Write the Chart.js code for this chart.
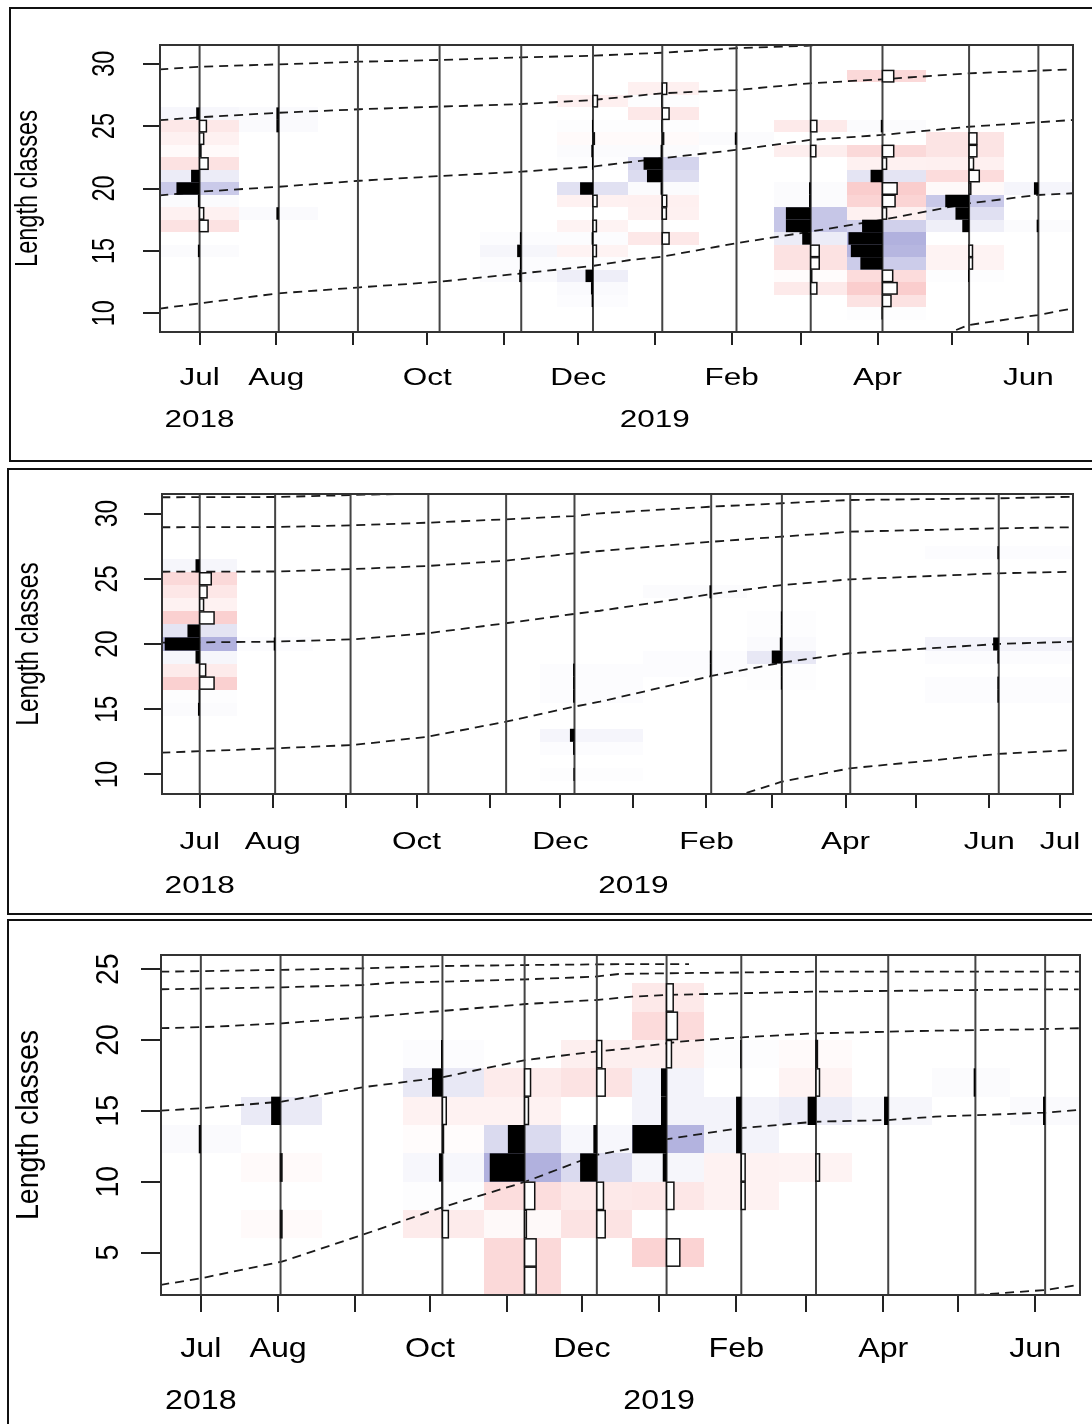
<!DOCTYPE html>
<html><head><meta charset="utf-8">
<script src="https://cdn.jsdelivr.net/npm/chart.js@4.4.1/dist/chart.umd.min.js"></script>
<style>
html,body{margin:0;padding:0;background:#fff;}
#wrap{position:relative;width:1092px;height:1424px;overflow:hidden;background:#fff;}
canvas{position:absolute;left:0;}
</style></head><body>
<div id="wrap">
<canvas id="c1" width="1092" height="465" style="top:0px"></canvas>
<canvas id="c2" width="1092" height="452" style="top:465px"></canvas>
<canvas id="c3" width="1092" height="507" style="top:917px"></canvas>
</div>
<script>
// ---------- shared axis data ----------
const monthStarts = ['2018-07-01','2018-08-01','2018-09-01','2018-10-01','2018-11-01','2018-12-01','2019-01-01','2019-02-01','2019-03-01','2019-04-01','2019-05-01','2019-06-01','2019-07-01'];
const monthLabels = ['Jul','Aug','','Oct','','Dec','','Feb','','Apr','','Jun','Jul'];
const yearLabels = ['2018','2019'];
const yearAnchors = ['2018-07-01','2019-01-01'];
const yTicksA = [10,15,20,25,30];
const yTicksC = [5,10,15,20,25];
const yTitle = 'Length classes';

// ---------- panel 1 ----------
const dates1 = ['2018-07-01','2018-08-02','2018-09-03','2018-10-06','2018-11-08','2018-12-07','2019-01-04','2019-02-03','2019-03-05','2019-04-03','2019-05-08','2019-06-05'];
const lengths1 = [9,10,11,12,13,14,15,16,17,18,19,20,21,22,23,24,25,26,27,28,29,30,31];
const rc1 = [
 [0,0,0,0,0,0,.05,0,-.25,-.12,.05,.68,.25,-.25,-.04,-.12,-.2,.1,0,0,0,0,0],
 [0,0,0,0,0,0,0,0,0,.07,0,0,0,0,0,0,.07,.07,0,0,0,0,0],
 [0,0,0,0,0,0,0,0,0,0,0,0,0,0,0,0,0,0,0,0,0,0,0],
 [0,0,0,0,0,0,0,0,0,0,0,0,0,0,0,0,0,0,0,0,0,0,0],
 [0,0,0,0,.06,.04,.12,.04,0,0,0,0,0,0,0,0,0,0,0,0,0,0,0],
 [0,0,.04,.06,.22,.02,-.1,.04,-.1,0,-.12,.38,0,.03,.05,-.04,.03,0,-.13,0,0,0,0],
 [0,0,0,0,0,0,0,-.2,0,-.12,-.13,.05,.45,.55,.05,-.04,.03,-.2,.03,-.13,0,0,0],
 [0,0,0,0,0,0,0,0,0,0,0,0,0,0,0,.05,0,0,0,0,0,0,0],
 [0,0,0,-.18,-.03,-.25,-.25,.25,.73,.73,.05,.05,0,0,-.15,0,-.18,0,0,0,0,0,0],
 [0,.03,-.25,-.43,-.3,.65,.93,1,.6,-.12,-.37,-.43,.35,-.12,-.33,0,.05,0,0,0,-.33,0,0],
 [0,0,0,0,.03,-.1,-.1,0,.2,.4,.7,-.05,-.3,-.13,-.23,-.23,0,0,0,0,0,0,0],
 [0,0,0,0,0,0,0,0,.05,0,0,.13,0,0,0,0,0,0,0,0,0,0,0]
];
const curves1 = [
 [[-16.3,29.54],[0.1,29.76],[32,29.95],[64.8,30.16],[97.1,30.30],[130.2,30.51],[158.7,30.64],[186.8,30.88],[216.7,31.24],[245.4,31.44],[262,31.62]],
 [[-16.3,25.47],[0.1,25.71],[32,26.07],[64.8,26.35],[97.1,26.56],[130.2,26.77],[158.7,27.09],[186.8,27.63],[216.7,27.89],[246.7,28.43],[275.7,28.75],[310.8,29.23],[353,29.55]],
 [[-16.3,19.45],[0.1,19.74],[32,20.14],[64.8,20.62],[97.1,21.00],[130.2,21.35],[158.7,21.75],[186.8,22.42],[216.7,23.09],[246.7,23.89],[275.7,24.29],[310.8,24.95],[353,25.49]],
 [[-16.3,10.37],[0.1,10.80],[32,11.60],[64.8,12.08],[97.1,12.53],[130.2,13.20],[158.7,13.79],[174,14.27],[186.8,14.53],[216.7,15.61],[246.7,16.54],[275.7,17.48],[310.8,18.81],[338.8,19.48],[353,19.62]],
 [[300,8.3],[304,8.52],[310.8,9.06],[338.8,9.86],[353,10.40]]
];

// ---------- panel 2 ----------
const dates2 = ['2018-07-01','2018-08-02','2018-09-03','2018-10-06','2018-11-08','2018-12-07','2019-02-03','2019-03-05','2019-04-03','2019-06-05'];
const lengths2 = [9,10,11,12,13,14,15,16,17,18,19,20,21,22,23,24,25,26,27,28,29,30,31];
const rc2 = [
 [0,0,0,0,0,0,.05,.03,-.41,-.17,.12,1,.35,-.41,-.11,-.21,-.33,.12,0,0,0,0,0],
 [0,0,0,0,0,0,0,0,0,0,0,.04,0,0,0,0,0,0,0,0,0,0,0],
 [0,0,0,0,0,0,0,0,0,0,0,0,0,0,0,0,0,0,0,0,0,0,0],
 [0,0,0,0,0,0,0,0,0,0,0,0,0,0,0,0,0,0,0,0,0,0,0],
 [0,0,0,0,0,0,0,0,0,0,0,0,0,0,0,0,0,0,0,0,0,0,0],
 [0,.03,0,.04,.13,0,0,.04,.04,.04,0,0,0,0,0,0,0,0,0,0,0,0,0],
 [0,0,0,0,0,0,0,0,0,.04,.04,0,0,0,0,.05,0,0,0,0,0,0,0],
 [0,0,0,0,0,0,0,0,.03,.03,.29,.06,.03,.03,0,0,0,0,0,0,0,0,0],
 [0,0,0,0,0,0,0,0,0,0,0,0,0,0,0,0,0,0,0,0,0,0,0],
 [0,0,0,0,0,0,0,.04,.04,0,.04,.16,0,0,0,0,0,0,.04,0,0,0,0]
];
const curves2 = [
 [[-16.3,31.25],[32.3,31.27],[73.4,31.46],[109,31.58]],
 [[-16.3,28.95],[32,28.97],[65.4,29.1],[96.6,29.30],[129.9,29.56],[158.7,29.81],[169.8,30.02],[217.2,30.53],[246.9,30.79],[275.9,31.04],[338.8,31.17],[370.5,31.29]],
 [[-16.3,25.54],[32.6,25.56],[65.4,25.75],[96.6,25.98],[129.9,26.39],[158.7,26.95],[169.8,27.13],[217.2,27.84],[246.9,28.23],[275.9,28.61],[338.8,28.87],[370.5,28.95]],
 [[-16.3,20.10],[31.8,20.18],[65.4,20.36],[96.6,20.82],[129.9,21.59],[158.7,22.30],[169.8,22.55],[217.2,23.83],[246.9,24.52],[275.9,24.96],[338.8,25.42],[370.5,25.54]],
 [[-16.3,11.67],[31.8,12.00],[65.4,12.26],[96.6,12.89],[129.9,14.04],[158.7,15.19],[169.8,15.58],[217.2,17.55],[246.9,18.57],[275.9,19.29],[338.8,20.00],[370.5,20.18]],
 [[226,8.2],[230.6,8.50],[246.9,9.44],[275.9,10.47],[338.8,11.57],[370.5,11.87]]
];

// ---------- panel 3 ----------
const dates3 = ['2018-07-01','2018-08-02','2018-09-04','2018-10-06','2018-11-08','2018-12-07','2019-01-04','2019-02-03','2019-03-05','2019-04-03','2019-05-08','2019-06-05'];
const lengths3 = [3,5,7,9,11,13,15,17,19,21,23,25];
const rc3 = [
 [0,0,0,0,0,.06,0,0,0,0,0,0],
 [0,0,-.04,0,-.04,0,.27,0,0,0,0,0],
 [0,0,0,0,0,0,0,0,0,0,0,0],
 [0,0,-.17,.03,.1,-.03,-.11,.3,.04,0,0,0],
 [-.33,-.33,-.05,-.29,1,.48,-.11,-.17,0,0,0,0],
 [0,0,-.24,-.19,.48,.1,0,-.24,-.14,0,0,0],
 [0,-.38,0,-.21,.11,.98,.16,.16,-.14,-.31,-.19,0],
 [0,0,0,-.11,-.11,.15,.15,0,.03,0,0,0],
 [0,0,0,0,-.1,0,.24,-.1,-.04,0,0,0],
 [0,0,0,0,0,0,.12,0,0,0,0,0],
 [0,0,0,0,0,0,0,.05,0,0,0,0],
 [0,0,0,0,0,0,.06,0,0,0,0,0]
];
const curves3 = [
 [[-16.3,24.82],[32.5,24.95],[64.8,25.06],[96.9,25.22],[130.4,25.29],[171.8,25.36],[196,25.36]],
 [[-16.3,23.58],[32.5,23.72],[64.8,23.88],[76.8,24.04],[96.9,24.12],[130.4,24.28],[158.5,24.47],[167.8,24.66],[186.6,24.71],[245.4,24.82],[352.5,24.82]],
 [[-16.3,20.83],[6,20.94],[32.5,21.18],[64.8,21.60],[96.9,22.05],[130.4,22.54],[158.5,22.82],[173.2,23.06],[186.6,23.18],[245.4,23.41],[339,23.58],[352.5,23.58]],
 [[-16.3,15.01],[0,15.18],[32.5,15.65],[64.8,16.66],[96.9,17.37],[130.4,18.59],[158.5,19.18],[171.8,19.41],[191.9,19.88],[217.1,20.19],[246.7,20.47],[294.9,20.66],[333.5,20.75],[352.5,20.83]],
 [[-16.3,2.71],[0,3.18],[32.5,4.35],[64.8,6.24],[96.9,8.19],[130.4,10.00],[158.5,11.88],[173.2,12.35],[186.6,12.99],[216,13.77],[246.7,14.23],[275.9,14.35],[294.9,14.59],[339,14.87],[352.5,15.06]],
 [[310.9,2.0],[320.3,2.12],[339,2.35],[352.5,2.71]]
];

// ---------- helpers ----------
const ORIGIN = Date.parse('2018-07-01');
function dayOf(s){ return (Date.parse(s) - ORIGIN) / 86400000; }
function rgb(r,g,b){ return 'rgb('+Math.round(r)+','+Math.round(g)+','+Math.round(b)+')'; }
function cellColor(v){
  if (v > 0){ const t = Math.min(1, v); return rgb(255-t*78, 255-t*78, 255-t*33); }
  const t = Math.min(1, -v/0.45); return rgb(255-t*5, 255-t*52, 255-t*52);
}
const FONT = '"Liberation Sans", Arial, Helvetica, sans-serif';
function drawText(ctx, txt, x, y, size, sx, rot, align){
  ctx.save();
  ctx.translate(x, y);
  ctx.scale(sx, 1);
  if (rot) ctx.rotate(-Math.PI/2);
  ctx.font = size + 'px ' + FONT;
  ctx.fillStyle = '#000';
  ctx.textAlign = align || 'center';
  ctx.textBaseline = 'alphabetic';
  ctx.fillText(txt, 0, 0);
  ctx.restore();
}

function makePanel(cfg){
  const days = cfg.dates.map(dayOf);
  const n = days.length;
  const edges = [days[0] - (days[1]-days[0])/2];
  for (let i = 1; i < n; i++) edges.push((days[i-1]+days[i])/2);
  edges.push(days[n-1] + (days[n-1]-days[n-2])/2);
  const xmin = edges[0], xmax = edges[n];
  const bw = cfg.lengths[1] - cfg.lengths[0];
  const ymin = cfg.lengths[0] - bw/2, ymax = cfg.lengths[cfg.lengths.length-1] + bw/2;
  const mDays = monthStarts.map(dayOf);
  const tickDays = mDays.filter(d => d >= xmin && d <= xmax);

  const plugin = {
    id: 'lfq' + cfg.id,
    beforeDatasetsDraw(chart){
      const ctx = chart.ctx, xs = chart.scales.x, ys = chart.scales.y;
      ctx.save();
      for (let i = 0; i < n; i++){
        const x0 = Math.round(xs.getPixelForValue(edges[i])), x1 = Math.round(xs.getPixelForValue(edges[i+1]));
        cfg.rc[i].forEach((v, j) => {
          if (!v) return;
          const L = cfg.lengths[j];
          const y0 = Math.round(ys.getPixelForValue(L + bw/2)), y1 = Math.round(ys.getPixelForValue(L - bw/2));
          ctx.fillStyle = cellColor(v);
          ctx.fillRect(x0, y0, x1 - x0, y1 - y0);
        });
      }
      ctx.restore();
    },
    afterDatasetsDraw(chart){
      const ctx = chart.ctx, xs = chart.scales.x, ys = chart.scales.y, ca = chart.chartArea;
      ctx.save();
      ctx.strokeStyle = '#444'; ctx.lineWidth = 2;
      days.forEach(d => {
        const x = xs.getPixelForValue(d);
        ctx.beginPath(); ctx.moveTo(x, ca.top); ctx.lineTo(x, ca.bottom); ctx.stroke();
      });
      for (let i = 0; i < n; i++){
        const d = days[i];
        const xc = xs.getPixelForValue(d);
        cfg.rc[i].forEach((v, j) => {
          if (!v) return;
          const L = cfg.lengths[j];
          const y0 = ys.getPixelForValue(L + bw/2), y1 = ys.getPixelForValue(L - bw/2);
          if (v > 0){
            const xl = xs.getPixelForValue(d - v*cfg.barDays);
            ctx.fillStyle = '#000';
            ctx.fillRect(xl, y0, xc - xl, y1 - y0);
          } else {
            const xr = xs.getPixelForValue(d - v*cfg.barDays);
            ctx.fillStyle = '#fff';
            ctx.fillRect(xc, y0, xr - xc, y1 - y0);
            ctx.strokeStyle = '#111'; ctx.lineWidth = 1.5;
            ctx.strokeRect(xc, y0 + 0.5, xr - xc, y1 - y0 - 1);
          }
        });
      }
      ctx.restore();
    },
    afterDraw(chart){
      const ctx = chart.ctx, xs = chart.scales.x, ys = chart.scales.y, ca = chart.chartArea;
      ctx.save();
      ctx.strokeStyle = '#333'; ctx.lineWidth = 2;
      ctx.strokeRect(ca.left, ca.top, ca.right - ca.left, ca.bottom - ca.top);
      ctx.strokeStyle = '#111'; ctx.lineWidth = 2;
      ctx.strokeRect(cfg.box[0], cfg.box[1], cfg.box[2], cfg.box[3]);
      ctx.restore();
      mDays.forEach((d, k) => {
        if (d < xmin || d > xmax || !monthLabels[k]) return;
        drawText(ctx, monthLabels[k], xs.getPixelForValue(d), cfg.monthY, cfg.fs, cfg.sx);
      });
      yearAnchors.forEach((s, k) => {
        drawText(ctx, yearLabels[k], xs.getPixelForValue(dayOf(s)), cfg.yearY, cfg.fs, cfg.sx);
      });
      cfg.yTicks.forEach(v => {
        drawText(ctx, String(v), cfg.yLabX, ys.getPixelForValue(v), cfg.fs, cfg.sx, true);
      });
      drawText(ctx, yTitle, cfg.titleX, (ca.top + ca.bottom)/2, cfg.fs, cfg.sx, true);
    }
  };

  new Chart(document.getElementById(cfg.id), {
    type: 'scatter',
    data: {
      datasets: cfg.curves.map(c => ({
        data: c.map(p => ({x: p[0], y: p[1]})),
        showLine: true, pointRadius: 0, borderColor: '#1a1a1a', borderWidth: 1.8,
        borderDash: [9, 6], fill: false, tension: 0
      }))
    },
    options: {
      responsive: false, animation: false, devicePixelRatio: 1,
      layout: { padding: { top: cfg.top, right: 1092 - cfg.right, left: 0, bottom: 0 } },
      plugins: { legend: { display: false }, tooltip: { enabled: false } },
      events: [],
      scales: {
        x: {
          type: 'linear', min: xmin, max: xmax, bounds: 'data',
          afterFit: s => { s.height = cfg.h - cfg.bottom; },
          afterBuildTicks: s => { s.ticks = tickDays.map(v => ({ value: v })); },
          ticks: { display: false },
          grid: { drawOnChartArea: false, drawTicks: true, tickLength: cfg.xTickLen, color: '#222', tickColor: '#222', lineWidth: 2, tickWidth: 2 },
          border: { display: false }
        },
        y: {
          type: 'linear', min: ymin, max: ymax, bounds: 'data',
          afterFit: s => { s.width = cfg.left; },
          afterBuildTicks: s => { s.ticks = cfg.yTicks.map(v => ({ value: v })); },
          ticks: { display: false },
          grid: { drawOnChartArea: false, drawTicks: true, tickLength: cfg.yTickLen, color: '#222', tickColor: '#222', lineWidth: 2, tickWidth: 2 },
          border: { display: false }
        }
      }
    },
    plugins: [plugin]
  });
}

makePanel({ id: 'c1', h: 465, left: 160, top: 45, right: 1073, bottom: 332,
  dates: dates1, lengths: lengths1, rc: rc1, curves: curves1, yTicks: yTicksA,
  barDays: 13.75, xTickLen: 13, yTickLen: 17, box: [10, 8, 1100, 453],
  fs: 23.5, sx: 1.34, monthY: 385, yearY: 427, yLabX: 113.5, titleX: 37 });

makePanel({ id: 'c2', h: 452, left: 162, top: 29, right: 1073, bottom: 329,
  dates: dates2, lengths: lengths2, rc: rc2, curves: curves2, yTicks: yTicksA,
  barDays: 14.85, xTickLen: 14, yTickLen: 18, box: [8, 4, 1100, 445],
  fs: 24.5, sx: 1.29, monthY: 384, yearY: 428, yLabX: 117, titleX: 38 });

makePanel({ id: 'c3', h: 507, left: 161, top: 38, right: 1080, bottom: 378,
  dates: dates3, lengths: lengths3, rc: rc3, curves: curves3, yTicks: yTicksC,
  barDays: 14.0, xTickLen: 17, yTickLen: 20, box: [8, 3, 1100, 520],
  fs: 28.5, sx: 1.13, monthY: 440, yearY: 492, yLabX: 118, titleX: 38 });
</script>
</body></html>
